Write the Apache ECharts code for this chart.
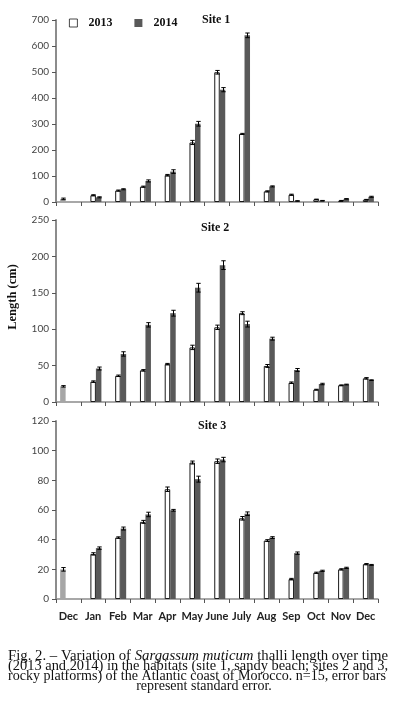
<!DOCTYPE html>
<html><head><meta charset="utf-8">
<script src="https://cdn.jsdelivr.net/npm/echarts@6/dist/echarts.min.js"></script>
<style>html,body{margin:0;padding:0;background:#fff}#c{width:393px;height:703px}</style>
</head><body><div id="c"></div>
<script>
var months = ['Dec','Jan','Feb','Mar','Apr','May','June','July','Aug','Sep','Oct','Nov','Dec'];
var siteNames = ['Site 1','Site 2','Site 3'];
var yMax = [700, 250, 120];
var yInterval = [100, 50, 20];

// Site 1 (cm)
var s1_2012 = [12, null, null, null, null, null, null, null, null, null, null, null, null];
var s1_2013 = [null, 26, 44, 59, 103, 229, 499, 262, 41, 28, 10, 5, 9];
var s1_2014 = [null, 18, 49, 81, 117, 301, 432, 641, 60, 4, 5, 12, 20];
var s1_2012_se = [3, null, null, null, null, null, null, null, null, null, null, null, null];
var s1_2013_se = [null, 2, 2, 2, 3, 8, 7, 2, 2, 2, 1, 1, 1];
var s1_2014_se = [null, 2, 2, 4, 7, 9, 8, 9, 2, 1, 1, 1, 2];

// Site 2 (cm)
var s2_2012 = [21.5, null, null, null, null, null, null, null, null, null, null, null, null];
var s2_2013 = [null, 28, 36, 43.5, 52, 75, 102.6, 122, 49.5, 26.5, 17, 23, 32.5];
var s2_2014 = [null, 46, 66, 106, 122, 157, 188, 107, 87, 44, 24.7, 24, 30];
var s2_2012_se = [1, null, null, null, null, null, null, null, null, null, null, null, null];
var s2_2013_se = [null, 1, 1, 1, 1, 3, 3, 2, 2, 1, 0.5, 0.5, 1];
var s2_2014_se = [null, 2, 3, 3, 4, 6, 6, 4, 2, 2, 1, 0.5, 0.5];

// Site 3 (cm)
var s3_2012 = [20, null, null, null, null, null, null, null, null, null, null, null, null];
var s3_2013 = [null, 30.4, 41.4, 52, 74, 92, 92.9, 54.4, 39.4, 13.4, 17.7, 20, 23.5];
var s3_2014 = [null, 34.3, 47.5, 57, 59.8, 80.8, 94, 57.5, 41.4, 30.9, 19, 21, 23];
var s3_2012_se = [1.2, null, null, null, null, null, null, null, null, null, null, null, null];
var s3_2013_se = [null, 0.8, 0.5, 1, 1.5, 1, 1.5, 1.2, 0.6, 0.5, 0.4, 0.4, 0.4];
var s3_2014_se = [null, 0.8, 1, 1.5, 0.6, 2, 1.5, 1.2, 0.6, 0.8, 0.4, 0.4, 0.3];

var sites = [
  {v: [s1_2012, s1_2013, s1_2014], e: [s1_2012_se, s1_2013_se, s1_2014_se]},
  {v: [s2_2012, s2_2013, s2_2014], e: [s2_2012_se, s2_2013_se, s2_2014_se]},
  {v: [s3_2012, s3_2013, s3_2014], e: [s3_2012_se, s3_2013_se, s3_2014_se]}
];

var captionParts = ['Fig. 2. – Variation of ', 'Sargassum muticum', ' thalli length over time'];
var captionLines = [
  '(2013 and 2014) in the habitats (site 1, sandy beach; sites 2 and 3,',
  'rocky platforms) of the Atlantic coast of Morocco. n=15, error bars',
  'represent standard error.'
];

var BW = 5.5;
var grids = [
  {left: 56, right: 15, top: 20, height: 182},
  {left: 56, right: 15, top: 220, height: 182},
  {left: 56, right: 15, top: 421, height: 178}
];
var seriesNames = ['2012', '2013', '2014'];
var barStyles = [
  {color: '#a6a6a6'},
  {color: '#ffffff', borderColor: '#1a1a1a', borderWidth: 1},
  {color: '#595959'}
];
var offsets = [-BW, 0, BW];

var xAxes = [], yAxes = [], series = [], titles = [];
grids.forEach(function (g, i) {
  xAxes.push({
    type: 'category', data: months, gridIndex: i,
    axisLine: {lineStyle: {color: '#8c8c8c', width: 1.5}},
    axisTick: {show: true, interval: 0, length: 4, lineStyle: {color: '#555'}},
    axisLabel: {show: i === 2, interval: 0, color: '#222', fontFamily: 'Lato', fontWeight: 'bold', fontSize: 11, margin: 12}
  });
  yAxes.push({
    type: 'value', gridIndex: i, min: 0, max: yMax[i], interval: yInterval[i],
    axisLine: {show: true, lineStyle: {color: '#8c8c8c', width: 2}},
    axisTick: {show: true, length: 4, lineStyle: {color: '#555'}},
    splitLine: {show: false},
    axisLabel: {color: '#444', fontFamily: 'Lato', fontSize: 10, margin: 7}
  });
  titles.push({
    text: siteNames[i], left: [202, 201, 198][i], top: [14, 222, 420][i], padding: 0,
    textStyle: {fontFamily: 'Liberation Serif', fontWeight: 'bold', fontSize: 12, color: '#111'}
  });
  var site = sites[i];
  for (var k = 0; k < 3; k++) {
    series.push({
      type: 'bar', name: seriesNames[k], xAxisIndex: i, yAxisIndex: i,
      barWidth: BW, barGap: '0%', data: site.v[k], itemStyle: barStyles[k],
      emphasis: {disabled: true}, animation: false
    });
  }
  for (var k2 = 0; k2 < 3; k2++) {
    var d = [];
    site.v[k2].forEach(function (val, j) {
      if (val != null && site.e[k2][j] != null) d.push([j, val, site.e[k2][j]]);
    });
    (function (off) {
      series.push({
        type: 'custom', name: 'se', xAxisIndex: i, yAxisIndex: i, data: d, z: 5,
        animation: false, silent: true,
        encode: {x: 0, y: 1},
        renderItem: function (params, api) {
          var c = api.value(0), v = api.value(1), e = api.value(2);
          var top = api.coord([c, v + e]);
          var bot = api.coord([c, Math.max(0, v - e)]);
          var x = Math.round(top[0] + off) + 0.5;
          var hw = 2.2;
          var st = {stroke: '#000', lineWidth: 1};
          return {type: 'group', children: [
            {type: 'line', shape: {x1: x, y1: top[1], x2: x, y2: bot[1]}, style: st},
            {type: 'line', shape: {x1: x - hw, y1: top[1], x2: x + hw, y2: top[1]}, style: st},
            {type: 'line', shape: {x1: x - hw, y1: bot[1], x2: x + hw, y2: bot[1]}, style: st}
          ]};
        }
      });
    })(offsets[k2]);
  }
});

// caption text: measure so justified lines span the same width as the reference
var CAP_PX = 14;
var capFont = CAP_PX + 'px "Liberation Serif"';
var capItal = 'italic ' + CAP_PX + 'px "Liberation Serif"';
var mctx = document.createElement('canvas').getContext('2d');
function mw(t, f) { mctx.font = f; return mctx.measureText(t).width; }
var TARGET_W = 380, CX = 198;
var w0 = mw(captionParts[0], capFont) + mw(captionParts[1], capItal) + mw(captionParts[2], capFont);
var w1 = mw(captionLines[0], capFont);
var w2 = mw(captionLines[1], capFont);

var capStyle = {font: capFont, fill: '#111', align: 'center', verticalAlign: 'middle'};
function capLine(text, x, y, sx) {
  return {type: 'text', x: x, y: y, scaleX: sx, silent: true, style: Object.assign({text: text}, capStyle)};
}

var option = {
  animation: false,
  title: titles,
  legend: {
    data: ['2013', '2014'], left: 69, top: 17, padding: 0, itemWidth: 8, itemHeight: 8, itemGap: 22, icon: 'rect',
    textStyle: {fontFamily: 'Liberation Serif', fontWeight: 'bold', fontSize: 12, color: '#111', padding: [0, 0, 0, 6]},
    itemStyle: {borderWidth: 0.8},
    selectedMode: false
  },
  grid: grids,
  xAxis: xAxes,
  yAxis: yAxes,
  series: series,
  graphic: [
    {type: 'text', x: 13, y: 297, rotation: Math.PI / 2, silent: true,
     style: {text: 'Length (cm)', font: 'bold 12.5px "Liberation Serif"', fill: '#111', align: 'center', verticalAlign: 'middle'}},
    {type: 'text', x: CX, y: 656, scaleX: TARGET_W / w0, silent: true,
     style: {text: '{n|' + captionParts[0] + '}{i|' + captionParts[1] + '}{n|' + captionParts[2] + '}',
       align: 'center', verticalAlign: 'middle',
       rich: {n: {font: capFont, fill: '#111'}, i: {font: capItal, fill: '#111'}}}},
    capLine(captionLines[0], CX, 666.5, TARGET_W / w1),
    capLine(captionLines[1], CX - 1, 676.5, (TARGET_W - 2) / w2),
    capLine(captionLines[2], 204, 686, 1)
  ]
};
var chart = echarts.init(document.getElementById('c'), null, {renderer: 'canvas'});
chart.setOption(option);
</script></body></html>
